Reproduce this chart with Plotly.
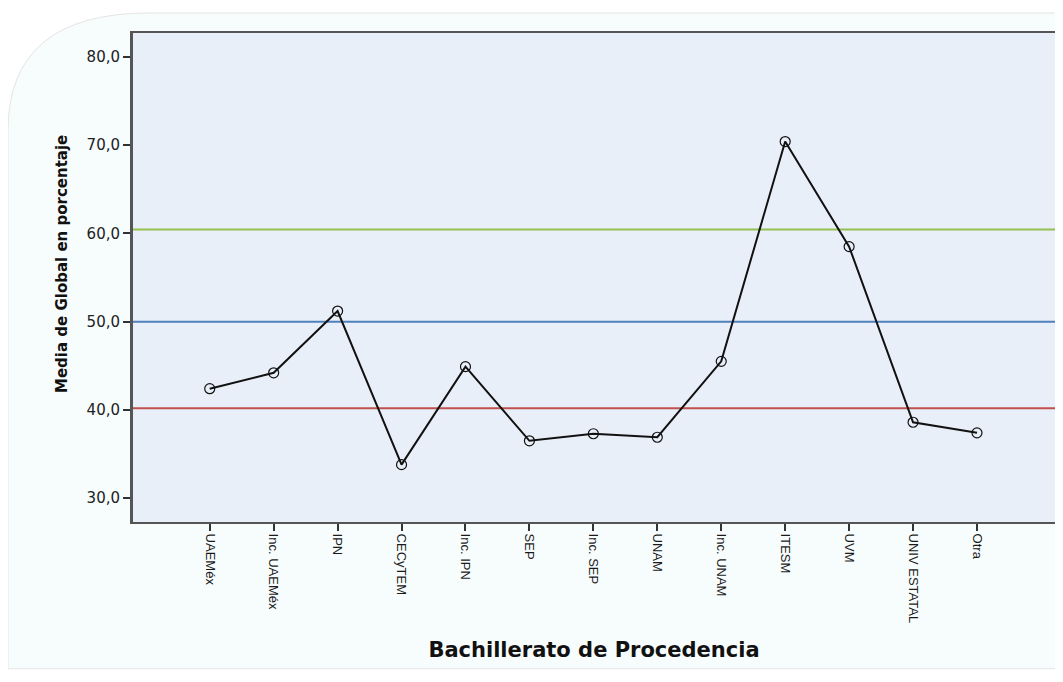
import plotly.graph_objects as go

categories = ["UAEMéx", "Inc. UAEMéx", "IPN", "CECyTEM", "Inc. IPN", "SEP", "Inc. SEP",
              "UNAM", "Inc. UNAM", "ITESM", "UVM", "UNIV ESTATAL", "Otra"]
media_global = [42.4, 44.2, 51.2, 33.8, 44.9, 36.5, 37.3, 36.9, 45.5, 70.4, 58.5, 38.6, 37.4]
ref_values = [60.45, 50.0, 40.2]
ref_colors = ["#94bf4f", "#4f81bd", "#c0504d"]
y_ticks = [30, 40, 50, 60, 70, 80]
x_title = "Bachillerato de Procedencia"
y_title = "Media de Global en porcentaje"

fig = go.Figure()
fig.add_trace(go.Scatter(
    x=categories, y=media_global, mode="lines+markers",
    line=dict(color="#111111", width=2),
    marker=dict(symbol="circle-open", size=10, color="#111111", line=dict(width=1.2)),
    showlegend=False, cliponaxis=False,
))

# background rounded panel
fig.add_shape(type="path", xref="paper", yref="paper",
              path="M -0.1356,-0.30 L -0.1356,0.80 Q -0.1356,1.041 0.018,1.041 L 1.02,1.041 L 1.02,-0.30 Z",
              fillcolor="#f7fcfd", line=dict(color="#e4e4e4", width=1), layer="below")
# plot area background
fig.add_shape(type="rect", xref="paper", yref="paper", x0=0, x1=1, y0=0, y1=1,
              fillcolor="#e9eff8", line=dict(width=0), layer="below")

for v, c in zip(ref_values, ref_colors):
    fig.add_shape(type="line", xref="paper", x0=0, x1=1, yref="y", y0=v, y1=v,
                  line=dict(color=c, width=2), layer="below")

fig.add_annotation(text="<b>" + y_title + "</b>", xref="paper", yref="paper",
                   x=-0.077, y=0.5276, xanchor="center", yanchor="middle", textangle=-90,
                   showarrow=False, font=dict(family="DejaVu Sans, sans-serif", size=15, color="#111111"))

fig.update_layout(
    width=1055, height=674,
    margin=dict(l=125, r=8, t=25, b=160),
    paper_bgcolor="white",
    plot_bgcolor="rgba(0,0,0,0)",
    separators=",.",
    font=dict(family="Liberation Sans, Arial, sans-serif", color="#222222"),
    xaxis=dict(
        type="category", range=[-1.2, 13.22], automargin=False,
        tickangle=90, ticks="outside", ticklen=7, tickwidth=2, tickcolor="#333333",
        tickfont=dict(size=13, color="#1a1a1a"),
        showgrid=False, zeroline=False,
        showline=True, linecolor="#555555", linewidth=2, mirror=True,
        title=dict(text="<b>" + x_title + "</b>",
                   font=dict(family="DejaVu Sans, sans-serif", size=21, color="#111111"), standoff=20),
    ),
    yaxis=dict(
        range=[27.3, 82.7], tickvals=y_ticks, tickformat=".1f", automargin=False,
        ticks="outside", ticklen=7, tickwidth=2, tickcolor="#333333",
        tickfont=dict(family="DejaVu Sans, sans-serif", size=15, color="#222222"),
        showgrid=False, zeroline=False,
        showline=True, linecolor="#555555", linewidth=3, mirror=True,
    ),
)

fig.write_html("out.html")
